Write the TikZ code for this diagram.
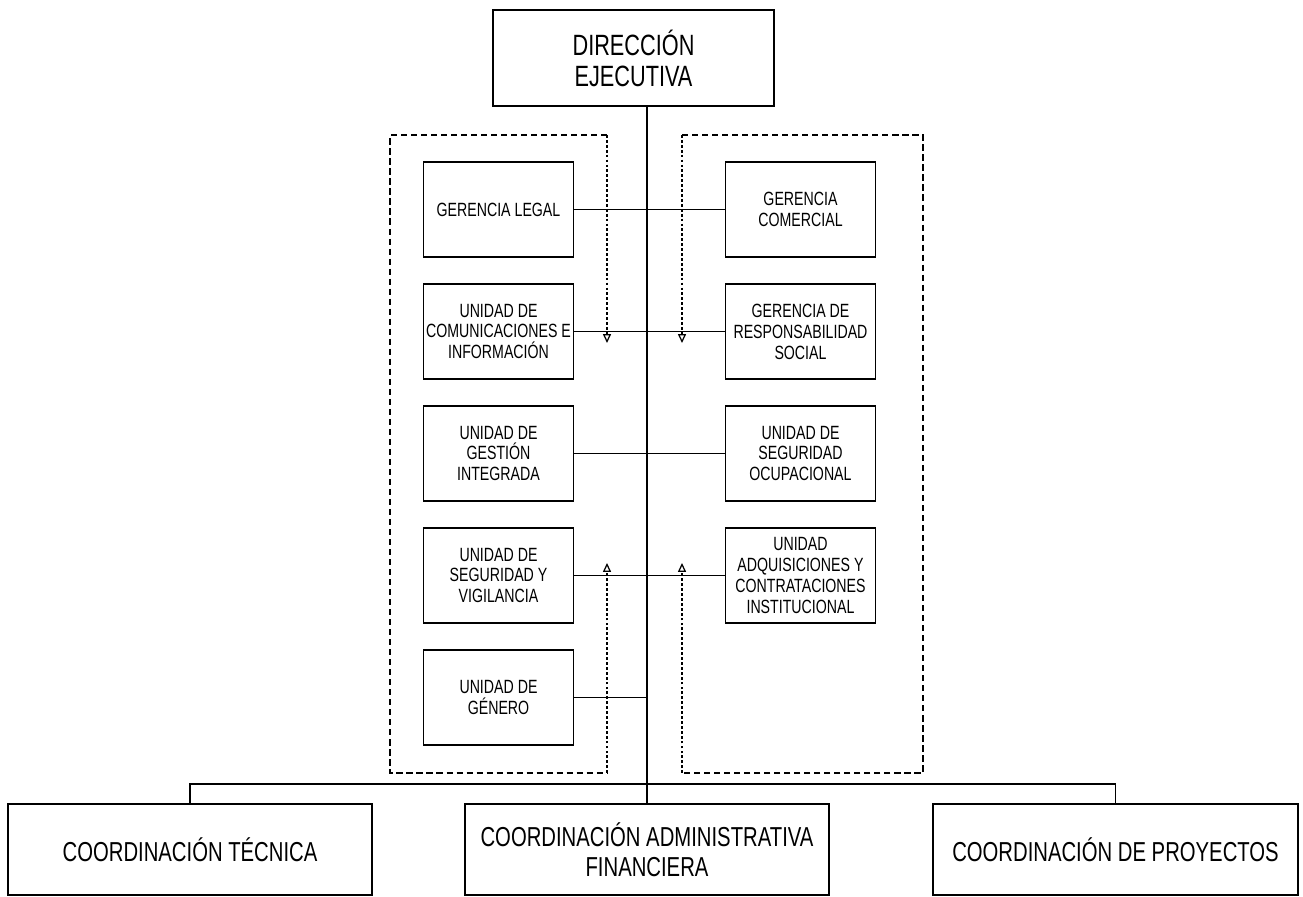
\documentclass[tikz,border=0pt]{standalone}
\usepackage{fontspec}
\setmainfont[FakeStretch=0.74]{Liberation Sans}
\usetikzlibrary{arrows.meta}

\begin{document}
\begin{tikzpicture}[
		unit/.style={draw, line width=0.9pt, minimum width=3cm, minimum height=1.9cm, inner sep=0pt, align=center, font=\fontsize{10.9}{11.9}\selectfont},
		head/.style={draw, line width=0.9pt, inner sep=0pt, align=center, font=\fontsize{15.6}{16.8}\selectfont},
		link/.style={line width=0.9pt},
		zone/.style={line width=0.6pt, dash pattern=on 3.5pt off 2.2pt},
		flow/.style={line width=0.7pt, dash pattern=on 1.6pt off 1.2pt, -{Triangle[open,length=5pt,width=4.5pt]}}
	]
			\useasboundingbox (0,0) rectangle (26.06,17.92);
			% direccion
			\node[head, font=\fontsize{16.7}{17.6}\selectfont, minimum width=5.62cm, minimum height=1.92cm] (dir) at (12.67,16.76) {DIRECCIÓN\\EJECUTIVA};
			% columna izquierda
			\node[unit] (legal) at (9.97,13.73) {GERENCIA LEGAL};
			\node[unit] (comu) at (9.97,11.29) {UNIDAD DE\\COMUNICACIONES E\\INFORMACIÓN};
			\node[unit] (gest) at (9.97,8.85) {UNIDAD DE\\GESTIÓN\\INTEGRADA};
			\node[unit] (segv) at (9.97,6.41) {UNIDAD DE\\SEGURIDAD Y\\VIGILANCIA};
			\node[unit] (gene) at (9.97,3.97) {UNIDAD DE\\GÉNERO};
			% columna derecha
			\node[unit] (come) at (16.01,13.73) {GERENCIA\\COMERCIAL};
			\node[unit] (resp) at (16.01,11.29) {GERENCIA DE\\RESPONSABILIDAD\\SOCIAL};
			\node[unit] (ocup) at (16.01,8.85) {UNIDAD DE\\SEGURIDAD\\OCUPACIONAL};
			\node[unit] (adqu) at (16.01,6.41) {UNIDAD\\ADQUISICIONES Y\\CONTRATACIONES\\INSTITUCIONAL};
			% coordinaciones
			\node[head, minimum width=7.28cm, minimum height=1.82cm] (tec) at (3.80,0.93) {COORDINACIÓN TÉCNICA};
			\node[head, minimum width=7.28cm, minimum height=1.82cm] (adm) at (12.94,0.93) {COORDINACIÓN ADMINISTRATIVA\\FINANCIERA};
			\node[head, minimum width=7.3cm, minimum height=1.82cm] (pro) at (22.31,0.93) {COORDINACIÓN DE PROYECTOS};
			% lineas
			\draw[link] (dir.south -| adm.north) -- (adm.north);
			\draw[link] (legal) -- (come);
			\draw[link] (comu) -- (resp);
			\draw[link] (gest) -- (ocup);
			\draw[link] (segv) -- (adqu);
			\draw[link] (gene.east) -- (gene.east -| adm.north);
			\coordinate (bus) at (12.94,2.24);
			\draw[link] (tec.north) |- (bus) -| (pro.north);
			% zonas
			\coordinate (ltop) at (12.14,15.22);
			\coordinate (lbot) at (12.14,2.46);
			\coordinate (rtop) at (13.64,15.22);
			\coordinate (rbot) at (13.64,2.46);
			\draw[zone] (ltop) -- (7.80,15.22) -- (7.80,2.46) -- (lbot);
			\draw[zone] (rtop) -- (18.46,15.22) -- (18.46,2.46) -- (rbot);
			\draw[flow] (ltop) -- ++(0,-4.16);
			\draw[flow] (rtop) -- ++(0,-4.16);
			\draw[flow] (lbot) -- ++(0,4.2);
			\draw[flow] (rbot) -- ++(0,4.2);
		\end{tikzpicture}
\end{document}
